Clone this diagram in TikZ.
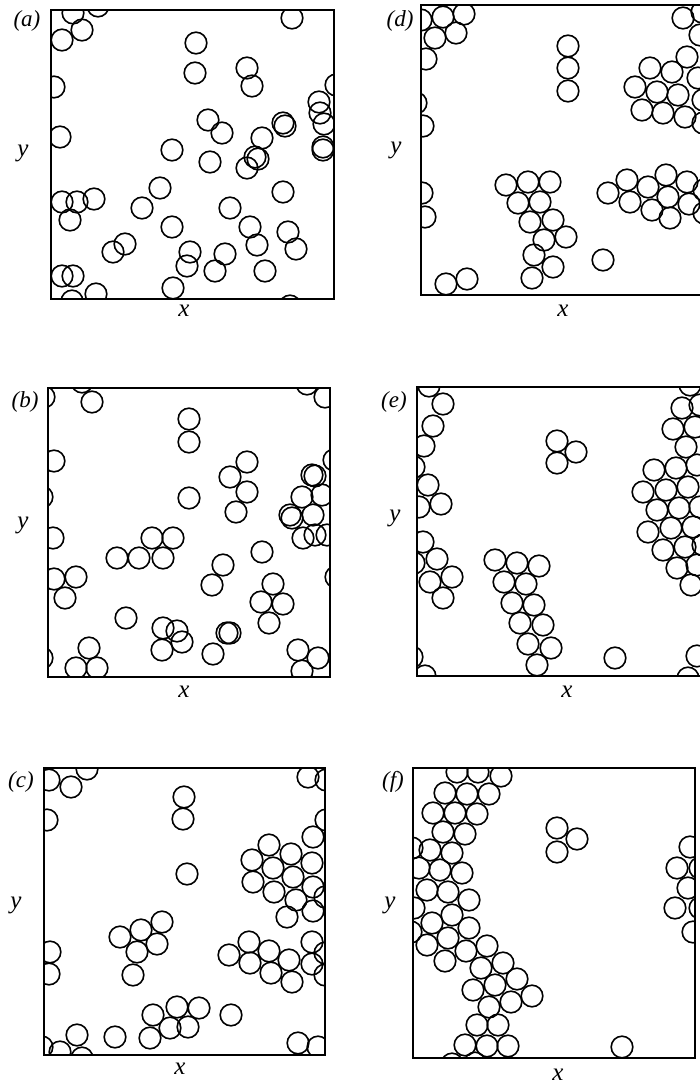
\documentclass[tikz,border=0pt]{standalone}
\usepackage{fontspec}
\setmainfont{Liberation Serif}

\tikzset{
  disc/.style={line width=1.6pt},
  panelbox/.style={line width=1.7pt},
  panellabel/.style={font=\fontsize{23}{26}\selectfont\itshape},
  axislabel/.style={font=\fontsize{25}{28}\selectfont\itshape}
}

\begin{document}
\begin{tikzpicture}[x=1pt,y=-1pt]
\useasboundingbox (0,0) rectangle (700,1089);
\clip (0,0) rectangle (700,1089);

% panel (a)
\begin{scope}
\clip (51,10) rectangle (334,299);
\foreach \cx/\cy in {98/6,73/13,82/30,62/40,292/18,196/43,195/73,247/68,252/86,54/87,
  336/85,319/102,320/113,324/124,323/147,323/150,208/120,222/133,283/123,285/126,
  262/138,60/137,172/150,210/162,255/157,258/159,247/168,160/188,283/192,62/202,
  77/202,94/199,70/220,142/208,230/208,172/227,250/227,288/232,125/244,113/252,
  190/252,257/245,296/249,225/254,187/266,215/271,265/271,62/276,73/276,173/288,
  96/294,72/301,290/306}
  \draw[disc] (\cx,\cy) circle[radius=10.8];
\end{scope}
\draw[panelbox] (51,10) rectangle (334,299);
\node[panellabel] (la) at (27,21) {(a)};
\node[axislabel] (ya) at (23,153) {y};
\node[axislabel] (xa) at (184,311) {x};

% panel (d)
\begin{scope}
\clip (421,5) rectangle (710,295);
\foreach \cx/\cy in {421/20,443/17,464/14,435/38,456/33,426/59,416/103,423/126,422/193,425/217,
  568/46,568/68,568/91,683/18,702/12,700/35,687/57,650/68,672/72,635/87,657/92,
  678/95,698/78,642/110,663/113,685/117,703/100,703/123,506/185,528/182,550/182,
  518/203,540/202,530/222,553/220,544/240,566/237,534/255,553/267,532/278,603/260,
  446/284,467/279,608/193,627/180,630/202,648/187,666/175,652/210,668/197,687/182,
  670/218,689/204,704/190,704/213}
  \draw[disc] (\cx,\cy) circle[radius=10.8];
\end{scope}
\draw[panelbox] (421,5) rectangle (710,295);
\node[panellabel] (ld) at (400,21) {(d)};
\node[axislabel] (yd) at (396,150) {y};
\node[axislabel] (xd) at (563,311) {x};

% panel (b)
\begin{scope}
\clip (48,388) rectangle (330,677);
\foreach \cx/\cy in {82/382,92/402,44/397,307/384,325/397,189/419,189/442,54/461,247/462,230/477,
  247/492,236/512,189/498,42/497,334/460,312/475,315/476,302/497,322/495,290/515,
  292/518,313/515,303/538,315/535,327/535,53/538,152/538,173/538,117/558,139/558,
  163/558,262/552,223/565,212/585,54/579,76/577,65/598,336/577,273/584,261/602,
  283/604,269/623,126/618,163/628,177/631,182/642,162/650,227/633,230/633,213/654,
  89/648,76/668,97/668,298/650,318/658,302/671,42/658}
  \draw[disc] (\cx,\cy) circle[radius=10.8];
\end{scope}
\draw[panelbox] (48,388) rectangle (330,677);
\node[panellabel] (lb) at (25,402) {(b)};
\node[axislabel] (yb) at (23,525) {y};
\node[axislabel] (xb) at (184,692) {x};

% panel (e)
\begin{scope}
\clip (417,387) rectangle (710,676);
\foreach \cx/\cy in {429/386,443/404,433/426,424/446,414/467,428/485,441/504,419/507,423/542,437/559,
  452/577,430/582,443/598,414/563,412/657,425/676,557/441,576/452,557/463,
  495/560,517/563,539/566,504/582,526/584,512/603,534/605,520/623,543/625,528/644,
  551/648,537/665,615/658,690/385,682/408,700/405,673/429,695/427,686/447,654/470,
  676/468,697/465,643/492,666/490,688/487,657/510,679/508,700/507,648/532,671/528,
  693/527,663/550,685/547,703/545,677/568,697/565,691/585,697/656,688/678}
  \draw[disc] (\cx,\cy) circle[radius=10.8];
\end{scope}
\draw[panelbox] (417,387) rectangle (710,676);
\node[panellabel] (le) at (394,402) {(e)};
\node[axislabel] (ye) at (395,518) {y};
\node[axislabel] (xe) at (567,692) {x};

% panel (c)
\begin{scope}
\clip (44,768) rectangle (325,1055);
\foreach \cx/\cy in {49/780,71/787,87/769,47/820,184/797,183/819,187/874,308/777,326/780,326/820,
  313/837,269/845,252/860,291/854,273/868,312/863,253/882,293/877,274/892,313/887,
  296/900,287/917,313/911,325/897,162/922,141/930,120/937,157/944,137/952,133/975,
  50/952,49/974,229/955,249/942,269/951,250/963,271/973,289/960,312/942,312/964,
  292/982,325/953,325/975,177/1007,199/1008,153/1015,170/1028,188/1027,150/1038,
  231/1015,115/1037,77/1035,60/1052,82/1058,42/1047,298/1043,318/1047}
  \draw[disc] (\cx,\cy) circle[radius=10.8];
\end{scope}
\draw[panelbox] (44,768) rectangle (325,1055);
\node[panellabel] (lc) at (21,782) {(c)};
\node[axislabel] (yc) at (16,905) {y};
\node[axislabel] (xc) at (180,1069) {x};

% panel (f)
\begin{scope}
\clip (413,768) rectangle (695,1058);
\foreach \cx/\cy in {457/772,478/772,501/776,445/793,467/794,489/794,433/813,455/813,477/814,443/832,
  465/834,412/848,430/850,452/853,419/868,440/870,462/873,427/890,448/892,469/900,
  414/908,432/923,452/915,469/928,411/932,427/945,448/938,445/961,466/951,487/946,
  481/968,503/963,517/979,473/990,495/985,532/996,511/1002,489/1007,477/1025,
  498/1025,465/1045,487/1046,508/1046,452/1064,475/1063,557/828,577/839,557/852,
  622/1047,690/847,677/868,700/868,688/888,675/908,700/908,693/932}
  \draw[disc] (\cx,\cy) circle[radius=10.8];
\end{scope}
\draw[panelbox] (413,768) rectangle (695,1058);
\node[panellabel] (lf) at (393,782) {(f)};
\node[axislabel] (yf) at (390,905) {y};
\node[axislabel] (xf) at (558,1075) {x};
\end{tikzpicture}
\end{document}
